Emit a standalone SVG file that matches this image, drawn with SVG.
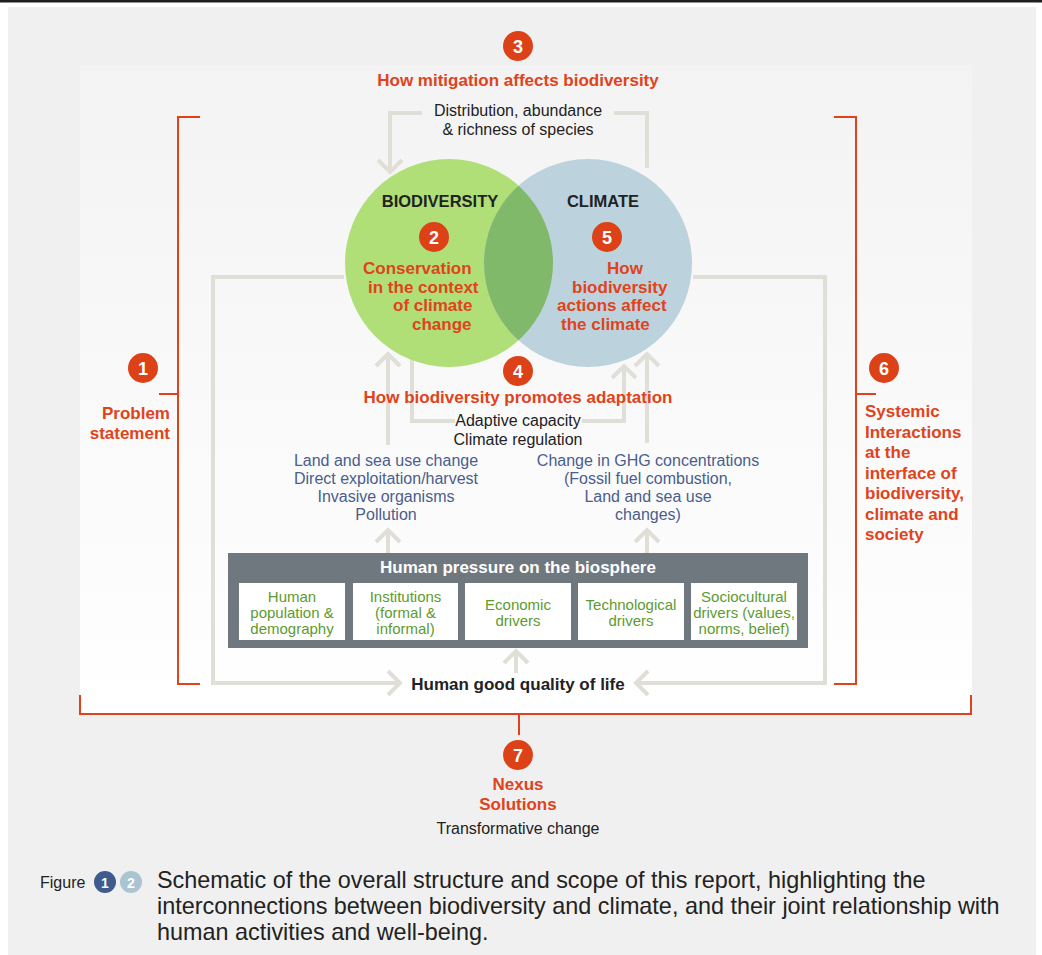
<svg xmlns="http://www.w3.org/2000/svg" width="1042" height="955" viewBox="0 0 1042 955">
<defs>
<linearGradient id="panel" x1="0" y1="0" x2="0" y2="1">
<stop offset="0" stop-color="#f3f3f3"/>
<stop offset="1" stop-color="#ffffff"/>
</linearGradient>
<marker id="chev" markerUnits="userSpaceOnUse" viewBox="-16 -16 20 32" markerWidth="20" markerHeight="32" refX="0" refY="0" orient="auto" overflow="visible">
<path d="M-12,-12 L0,0 L-12,12" fill="none" stroke="#dfdfd8" stroke-width="4"/>
</marker>
<style>
text{font-family:"Liberation Sans",Arial,Helvetica,sans-serif}
.conn{fill:none;stroke:#dfdfd8;stroke-width:4}
.br{fill:none;stroke:#e0431c;stroke-width:2}
.num{fill:#dc4117}
.numt{fill:#fff;font-size:18px;font-weight:bold;text-anchor:middle}
.or{fill:#e0431c;font-size:17px;font-weight:bold}
.blk{fill:#222;font-size:16px;text-anchor:middle}
.blue{fill:#4b5d8e;font-size:16px;text-anchor:middle}
.grn{fill:#5c9b2f;font-size:15px;text-anchor:middle}
.wb{fill:#fff;stroke:none}
.mid{text-anchor:middle}
.cap{fill:#222;font-size:23.4px}
</style>
</defs>
<rect x="0" y="0" width="1042" height="955" fill="#ffffff"/>
<rect x="0" y="0" width="1042" height="2.5" fill="#1e1e1e"/>
<rect x="8" y="7" width="1028" height="948" fill="#f0f0f0"/>
<rect x="80" y="65" width="892" height="649" fill="url(#panel)"/>

<g id="connectors">
<path class="conn" d="M647,168 V113 H614"/>
<path class="conn" d="M422,113 H390 V172" marker-end="url(#chev)"/>
<path class="conn" d="M344,277 H213 V683 H400" marker-end="url(#chev)"/>
<path class="conn" d="M693,277 H825 V683 H636" marker-end="url(#chev)"/>
<path class="conn" d="M516,673 V651" marker-end="url(#chev)"/>
<path class="conn" d="M388,445 V354" marker-end="url(#chev)"/>
<path class="conn" d="M412,355 V421 H455"/>
<path class="conn" d="M582,421 H624 V366" marker-end="url(#chev)"/>
<path class="conn" d="M647,443 V354" marker-end="url(#chev)"/>
<path class="conn" d="M388,553 V530" marker-end="url(#chev)"/>
<path class="conn" d="M647,553 V530" marker-end="url(#chev)"/>
</g>

<g id="brackets">
<path class="br" d="M200,117 H178 V684 H200"/>
<path class="br" d="M178,394 H159"/>
<path class="br" d="M834,117 H856 V684 H834"/>
<path class="br" d="M856,394 H876"/>
<path class="br" d="M80,695 V714 H971 V695"/>
<path class="br" d="M519,714 V735"/>
</g>

<g id="venn">
<circle cx="449" cy="263" r="104" fill="#b0df77"/>
<circle cx="588" cy="263" r="104" fill="#bcd3de"/>
<clipPath id="clipBio"><circle cx="449" cy="263" r="104"/></clipPath>
<circle cx="588" cy="263" r="104" fill="#80b96a" clip-path="url(#clipBio)"/>
</g>

<g id="node-biodiversity">
<text x="440" y="207" class="mid" style="font-size:16.5px;font-weight:bold;fill:#222">BIODIVERSITY</text>
<circle class="num" cx="434" cy="237" r="15"/>
<text class="numt" x="434" y="243.5">2</text>
<text class="or" x="363" y="274">Conservation</text>
<text class="or" x="368" y="292.5">in the context</text>
<text class="or" x="393" y="311">of climate</text>
<text class="or" x="412" y="329.5">change</text>
</g>

<g id="node-climate">
<text x="603" y="207" class="mid" style="font-size:16.5px;font-weight:bold;fill:#222">CLIMATE</text>
<circle class="num" cx="607" cy="237" r="15"/>
<text class="numt" x="607" y="243.5">5</text>
<text class="or" x="607" y="274">How</text>
<text class="or" x="572" y="292.5">biodiversity</text>
<text class="or" x="557" y="311">actions affect</text>
<text class="or" x="561" y="329.5">the climate</text>
</g>

<g id="node-3">
<circle class="num" cx="518" cy="46" r="15"/>
<text class="numt" x="518" y="52.5">3</text>
<text class="or mid" x="518" y="86">How mitigation affects biodiversity</text>
<text class="blk" x="518" y="116">Distribution, abundance</text>
<text class="blk" x="518" y="135">&amp; richness of species</text>
</g>

<g id="node-4">
<circle class="num" cx="518" cy="371" r="15"/>
<text class="numt" x="518" y="377.5">4</text>
<text class="or mid" x="518" y="403">How biodiversity promotes adaptation</text>
<text class="blk" x="518" y="426">Adaptive capacity</text>
<text class="blk" x="518" y="445">Climate regulation</text>
</g>

<g id="node-pressures-left">
<text class="blue" x="386" y="466">Land and sea use change</text>
<text class="blue" x="386" y="484">Direct exploitation/harvest</text>
<text class="blue" x="386" y="502">Invasive organisms</text>
<text class="blue" x="386" y="520">Pollution</text>
</g>

<g id="node-pressures-right">
<text class="blue" x="648" y="466">Change in GHG concentrations</text>
<text class="blue" x="648" y="484">(Fossil fuel combustion,</text>
<text class="blue" x="648" y="502">Land and sea use</text>
<text class="blue" x="648" y="520">changes)</text>
</g>

<g id="node-human-pressure">
<rect x="228" y="553" width="580" height="95" fill="#6f787f"/>
<text x="518" y="573" class="mid" style="fill:#fff;font-size:17px;font-weight:bold">Human pressure on the biosphere</text>
<rect class="wb" x="239" y="583" width="106" height="57"/>
<rect class="wb" x="353" y="583" width="105" height="57"/>
<rect class="wb" x="465" y="583" width="106" height="57"/>
<rect class="wb" x="578" y="583" width="106" height="57"/>
<rect class="wb" x="691" y="583" width="106" height="57"/>
<text class="grn" x="292" y="602">Human</text>
<text class="grn" x="292" y="618">population &amp;</text>
<text class="grn" x="292" y="634">demography</text>
<text class="grn" x="405.5" y="602">Institutions</text>
<text class="grn" x="405.5" y="618">(formal &amp;</text>
<text class="grn" x="405.5" y="634">informal)</text>
<text class="grn" x="518" y="610">Economic</text>
<text class="grn" x="518" y="626">drivers</text>
<text class="grn" x="631" y="610">Technological</text>
<text class="grn" x="631" y="626">drivers</text>
<text class="grn" x="744" y="602">Sociocultural</text>
<text class="grn" x="744" y="618">drivers (values,</text>
<text class="grn" x="744" y="634">norms, belief)</text>
</g>

<g id="node-quality-of-life">
<text x="518" y="690" class="mid" style="fill:#222;font-size:17px;font-weight:bold">Human good quality of life</text>
</g>

<g id="node-1">
<circle class="num" cx="143" cy="368" r="15"/>
<text class="numt" x="143" y="374.5">1</text>
<text class="or" x="170" y="419" text-anchor="end">Problem</text>
<text class="or" x="170" y="439" text-anchor="end">statement</text>
</g>

<g id="node-6">
<circle class="num" cx="884" cy="368" r="15"/>
<text class="numt" x="884" y="374.5">6</text>
<text class="or" x="865" y="417">Systemic</text>
<text class="or" x="865" y="437.5">Interactions</text>
<text class="or" x="865" y="458">at the</text>
<text class="or" x="865" y="478.5">interface of</text>
<text class="or" x="865" y="499">biodiversity,</text>
<text class="or" x="865" y="519.5">climate and</text>
<text class="or" x="865" y="540">society</text>
</g>

<g id="node-7">
<circle class="num" cx="518" cy="755" r="15"/>
<text class="numt" x="518" y="761.5">7</text>
<text class="or mid" x="518" y="790">Nexus</text>
<text class="or mid" x="518" y="810">Solutions</text>
<text class="blk" x="518" y="834">Transformative change</text>
</g>

<g id="caption">
<text x="40" y="888" style="fill:#222;font-size:16px">Figure</text>
<circle cx="105" cy="882" r="11" fill="#3f5a8e"/>
<text x="105" y="887.5" class="mid" style="fill:#fff;font-size:14px;font-weight:bold">1</text>
<circle cx="131" cy="882" r="11" fill="#aac4d2"/>
<text x="131" y="887.5" class="mid" style="fill:#fff;font-size:14px;font-weight:bold">2</text>
<text class="cap" x="157" y="888">Schematic of the overall structure and scope of this report, highlighting the</text>
<text class="cap" x="157" y="914">interconnections between biodiversity and climate, and their joint relationship with</text>
<text class="cap" x="157" y="940">human activities and well-being.</text>
</g>
</svg>
